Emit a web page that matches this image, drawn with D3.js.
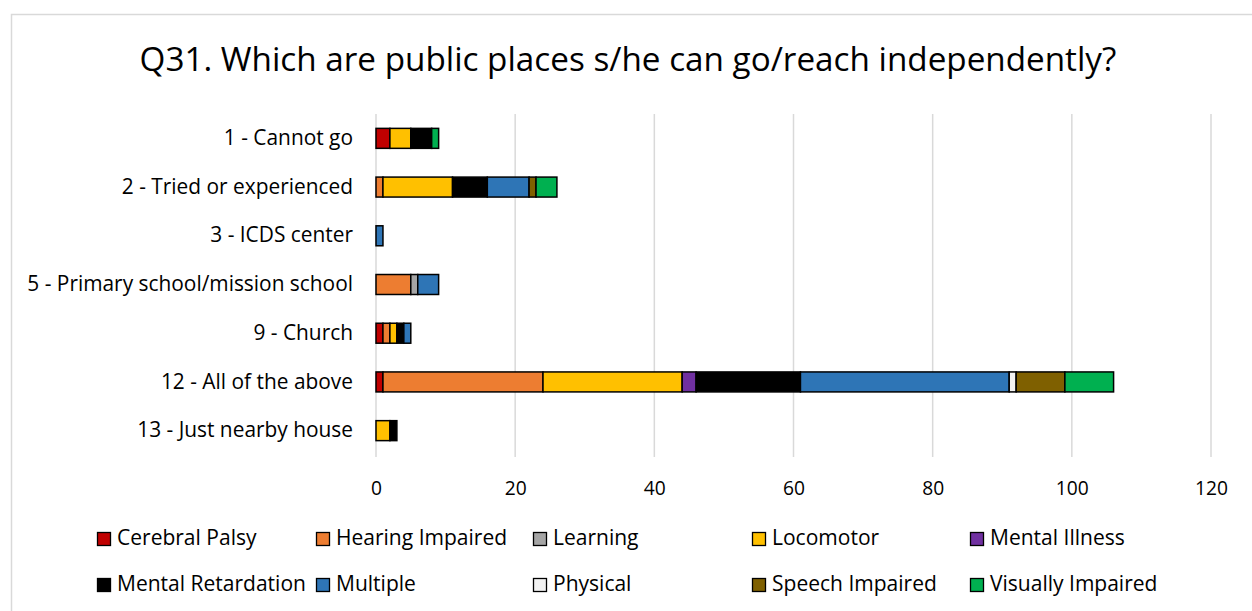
<!DOCTYPE html>
<html><head><meta charset="utf-8">
<script src="https://cdn.jsdelivr.net/npm/d3@7"></script>
<style>body{margin:0;background:#fff}svg{display:block}text{font-family:"Open Sans",sans-serif;fill:#000}</style>
</head><body><svg id="c" width="1252" height="611"></svg>
<script>
const title = "Q31. Which are public places s/he can go/reach independently?";
const categories = ["1 - Cannot go","2 - Tried or experienced","3 - ICDS center","5 - Primary school/mission school","9 - Church","12 - All of the above","13 - Just nearby house"];
const seriesNames = ["Cerebral Palsy","Hearing Impaired","Learning","Locomotor","Mental Illness","Mental Retardation","Multiple","Physical","Speech Impaired","Visually Impaired"];
const cerebralPalsy     = [2,0,0,0,1,1,0];
const hearingImpaired   = [0,1,0,5,1,23,0];
const learning          = [0,0,0,1,0,0,0];
const locomotor         = [3,10,0,0,1,20,2];
const mentalIllness     = [0,0,0,0,0,2,0];
const mentalRetardation = [3,5,0,0,1,15,1];
const multiple          = [0,6,1,3,1,30,0];
const physical          = [0,0,0,0,0,1,0];
const speechImpaired    = [0,1,0,0,0,7,0];
const visuallyImpaired  = [1,3,0,0,0,7,0];
const xTicks = [0,20,40,60,80,100,120];
const colors = ["#C00000","#ED7D31","#A5A5A5","#FFC000","#7030A0","#000000","#2E75B6","#F2F2F2","#7F6000","#00B050"];

const seriesValues = [cerebralPalsy,hearingImpaired,learning,locomotor,mentalIllness,mentalRetardation,multiple,physical,speechImpaired,visuallyImpaired];
const table = categories.map((c,i)=>{const o={cat:c}; seriesNames.forEach((s,j)=>o[s]=seriesValues[j][i]); return o;});

const svg = d3.select("#c");
svg.append("rect").attr("x",11.5).attr("y",14.5).attr("width",1300).attr("height",700).attr("fill","#fff").attr("stroke","#D9D9D9").attr("stroke-width",1.5);

function fit(sel, target){
  const n = sel.node(); const w = n.getComputedTextLength();
  return target/w;
}

const x = d3.scaleLinear().domain([0,120]).range([376,1211]);
const y = d3.scaleBand().domain(categories).range([114,455]).paddingInner(0.59).paddingOuter(0.295);

// gridlines
svg.append("g").selectAll("line").data(xTicks).join("line")
  .attr("x1",d=>x(d)).attr("x2",d=>x(d)).attr("y1",114).attr("y2",457)
  .attr("stroke","#D9D9D9").attr("stroke-width",1.5);

// title
const t = svg.append("text").attr("x",628).attr("y",62).attr("text-anchor","middle").attr("dominant-baseline","middle").style("font-size","28px").text(title);
t.style("font-size",(28*fit(t,977))+"px");

// bars
const stack = d3.stack().keys(seriesNames)(table);
svg.append("g").selectAll("g").data(stack).join("g")
  .attr("fill",(d,i)=>colors[i])
  .selectAll("rect").data(d=>d.filter(v=>v[1]-v[0]>0)).join("rect")
  .attr("x",d=>x(d[0])).attr("width",d=>x(d[1])-x(d[0]))
  .attr("y",d=>y(d.data.cat)).attr("height",y.bandwidth())
  .attr("stroke","#000").attr("stroke-width",1.5);

// y axis labels
const yAxis = d3.axisLeft(y).tickSize(0).tickPadding(23);
const yg = svg.append("g").attr("transform","translate(376,0)").call(yAxis);
yg.select(".domain").remove();
yg.selectAll("text").style("font-family",'"Open Sans",sans-serif').style("font-size","20px").attr("fill","#000");
const longLbl = yg.selectAll("text").filter(d=>d==="5 - Primary school/mission school");
const ys = 20*fit(longLbl,326);
yg.selectAll("text").style("font-size",ys+"px");

// x axis labels
const xAxis = d3.axisBottom(x).tickValues(xTicks).tickSize(0).tickPadding(0);
const xg = svg.append("g").attr("transform","translate(0,488)").call(xAxis);
xg.select(".domain").remove();
xg.selectAll("text").attr("dy","0.35em").attr("y",0).style("font-family",'"Open Sans",sans-serif').style("font-size","19px").attr("fill","#000");
const l120 = xg.selectAll("text").filter(d=>d===120);
xg.selectAll("text").style("font-size",(19*fit(l120,33))+"px");

// legend
const legX = [97,316,533,752,970];
const legY = [539,585];
const lg = svg.append("g").selectAll("g").data(seriesNames).join("g")
  .attr("transform",(d,i)=>`translate(${legX[i%5]},${legY[Math.floor(i/5)]})`);
lg.append("rect").attr("x",0.5).attr("y",-6.5).attr("width",13).attr("height",13)
  .attr("fill",(d,i)=>colors[i]).attr("stroke","#000").attr("stroke-width",1.3);
const lt = lg.append("text").attr("x",20).attr("y",0).attr("dominant-baseline","middle").style("font-size","20px").text(d=>d);
const mr = lt.filter(d=>d==="Mental Retardation");
lt.style("font-size",(20*fit(mr,189))+"px");
</script></body></html>
